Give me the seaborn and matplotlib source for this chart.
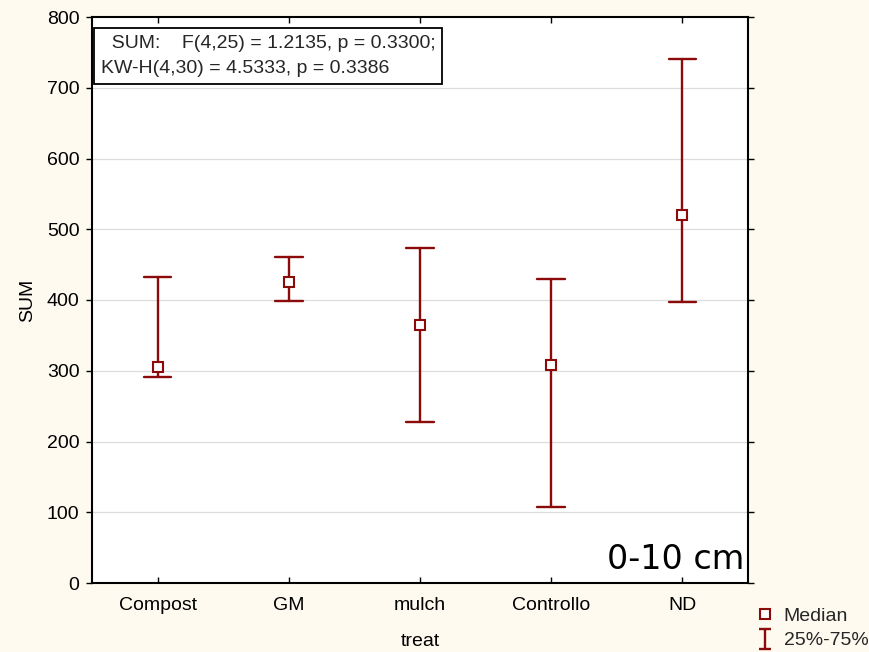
import numpy as np
import pandas as pd
import seaborn as sns
import matplotlib
matplotlib.use("Agg")
import matplotlib.pyplot as plt
from matplotlib.lines import Line2D
from matplotlib.path import Path

categories = ["Compost", "GM", "mulch", "Controllo", "ND"]
q25 = [291, 399, 228, 107, 397]
median = [305, 425, 365, 308, 520]
q75 = [433, 461, 473, 430, 741]
y_ticks = [0, 100, 200, 300, 400, 500, 600, 700, 800]

rows = []
for c, lo, md, hi in zip(categories, q25, median, q75):
    for v in (lo, md, hi):
        rows.append({"treat": c, "SUM": v})
df = pd.DataFrame(rows)

sns.set_theme(style="white")
plt.rcParams['font.family'] = ['Liberation Sans', 'DejaVu Sans']

FS = 14
red = "#8b0a0a"
fig = plt.figure(figsize=(8.7, 6.52), dpi=100, facecolor="#fefaf0")
ax = fig.add_axes([92/870, 1-583/652, 656/870, 566/652])
ax.set_facecolor("white")

sns.pointplot(data=df, x="treat", y="SUM", order=categories,
              estimator=np.median, errorbar=lambda x: (np.min(x), np.max(x)),
              linestyle="none", marker="s", markersize=6.5, color=red,
              capsize=0.21, err_kws={"linewidth": 1.7}, ax=ax)

for ln in ax.lines:
    if ln.get_marker() == "s":
        ln.set_markerfacecolor("white")
        ln.set_markeredgecolor(red)
        ln.set_markeredgewidth(1.5)
        ln.set_zorder(5)

ax.set_xlim(-0.5, 4.5)
ax.set_ylim(0, 800)
ax.set_yticks(y_ticks)
for t in y_ticks[1:-1]:
    ax.axhline(t, color="#dddddd", linewidth=0.9, zorder=0)

for s in ax.spines.values():
    s.set_color("black")
    s.set_linewidth(1.5)

ax.tick_params(axis="x", direction="in", top=True, bottom=True, length=4,
               width=1, labelsize=FS, colors="black", pad=10)
ax.tick_params(axis="y", direction="out", left=True, right=True, length=4,
               width=1, labelsize=FS, colors="black", pad=5)
ax.set_xlabel("treat", fontsize=FS, color="black", labelpad=14)
ax.set_ylabel("SUM", fontsize=FS, color="black", labelpad=8)

ax.text(0.013, 0.968, "  SUM:    F(4,25) = 1.2135, p = 0.3300;\nKW-H(4,30) = 4.5333, p = 0.3386",
        transform=ax.transAxes, ha="left", va="top", fontsize=FS, linespacing=1.6,
        bbox=dict(boxstyle="square,pad=0.35", facecolor="white", edgecolor="black", linewidth=1.3))

ax.text(0.994, 0.012, "0-10 cm", transform=ax.transAxes, ha="right", va="bottom",
        fontsize=24, family="DejaVu Sans", color="black")

ibeam = Path([(-0.6, -1), (0.6, -1), (0, -1), (0, 1), (-0.6, 1), (0.6, 1)],
             [Path.MOVETO, Path.LINETO, Path.MOVETO, Path.LINETO, Path.MOVETO, Path.LINETO])
handles = [Line2D([], [], linestyle="none", marker="s", markersize=6.5,
                  markerfacecolor="white", markeredgecolor=red, markeredgewidth=1.5),
           Line2D([], [], linestyle="none", marker=ibeam, markersize=14,
                  markerfacecolor="none", markeredgecolor=red, markeredgewidth=1.7)]
fig.legend(handles, ["Median", "25%-75%"], loc="lower right",
           bbox_to_anchor=(1.007, -0.008), frameon=False, fontsize=FS,
           handlelength=1.0, handletextpad=0.45, labelspacing=0.35, borderaxespad=0.0)

fig.savefig("out.png", dpi=100, facecolor=fig.get_facecolor())
